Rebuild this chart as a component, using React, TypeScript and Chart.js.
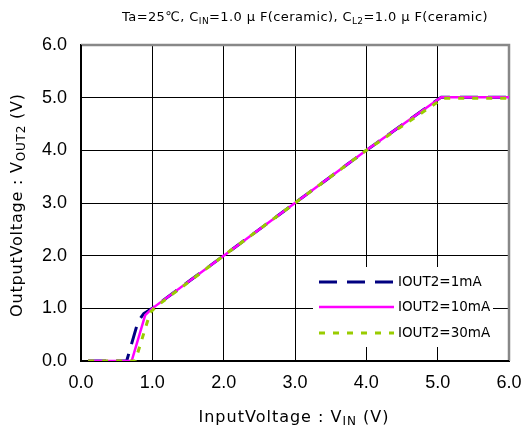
import React, { useEffect, useRef } from "react";
import { Chart, registerables } from "chart.js";

Chart.register(...registerables);

// ---- data ----
const axisTicks = [0, 1, 2, 3, 4, 5, 6];
const seriesLabels = ["IOUT2=1mA", "IOUT2=10mA", "IOUT2=30mA"];
const seriesColors = ["#000080", "#ff00ff", "#99cc00"];

const vin1mA = [0.1, 0.64, 0.8, 0.88, 1.0, 2.0, 3.0, 4.0, 5.05, 6.0];
const vout1mA = [0, 0, 0.75, 0.9, 1.0, 2.0, 3.0, 4.0, 5.01, 5.01];

const vin10mA = [0.1, 0.71, 0.9, 1.0, 2.0, 3.0, 4.0, 5.05, 6.0];
const vout10mA = [0, 0, 0.87, 1.0, 2.0, 3.0, 4.0, 5.01, 5.01];

const vin30mA = [0.1, 0.76, 0.97, 1.05, 2.0, 3.0, 4.0, 5.08, 6.0];
const vout30mA = [0, 0, 0.92, 1.03, 2.0, 3.0, 4.0, 4.99, 4.99];

const toPts = (xs: number[], ys: number[]) => xs.map((x, i) => ({ x, y: ys[i] }));

const GOTHIC = '"DejaVu Sans", "Noto Sans", sans-serif';
const TICKFONT = '"Liberation Sans", Arial, sans-serif';

type Part = [string, boolean];

function drawRich(
  ctx: CanvasRenderingContext2D,
  parts: Part[],
  cx: number,
  cy: number,
  size: number,
  spacing: number
) {
  const subSize = Math.round(size * 0.72);
  (ctx as any).letterSpacing = `${spacing}px`;
  let total = 0;
  const widths = parts.map(([t, sub]) => {
    ctx.font = `${sub ? subSize : size}px ${GOTHIC}`;
    const w = ctx.measureText(t).width;
    total += w;
    return w;
  });
  let x = cx - total / 2;
  ctx.textBaseline = "middle";
  ctx.textAlign = "left";
  ctx.fillStyle = "#000";
  parts.forEach(([t, sub], i) => {
    ctx.font = `${sub ? subSize : size}px ${GOTHIC}`;
    ctx.fillText(t, x, sub ? cy + size * 0.25 : cy);
    x += widths[i];
  });
  (ctx as any).letterSpacing = "0px";
}

const decorPlugin = {
  id: "decor",
  beforeDatasetsDraw(chart: any) {
    const { ctx, chartArea: a } = chart;
    ctx.save();
    ctx.strokeStyle = "#888888";
    ctx.lineWidth = 2.5;
    ctx.beginPath();
    ctx.moveTo(a.left, a.top);
    ctx.lineTo(a.right, a.top);
    ctx.lineTo(a.right, a.bottom);
    ctx.stroke();
    ctx.strokeStyle = "#000";
    ctx.lineWidth = 2;
    ctx.beginPath();
    ctx.moveTo(a.left, a.top);
    ctx.lineTo(a.left, a.bottom);
    ctx.lineTo(a.right, a.bottom);
    ctx.stroke();
    ctx.restore();
  },
  afterDraw(chart: any) {
    const { ctx } = chart;
    ctx.save();
    // title
    drawRich(
      ctx,
      [
        ["Ta=25℃, C", false],
        ["IN", true],
        ["=1.0 μ F(ceramic), C", false],
        ["L2", true],
        ["=1.0 μ F(ceramic)", false],
      ],
      305,
      18,
      13,
      0.4
    );
    // x title
    drawRich(
      ctx,
      [
        ["InputVoltage : V", false],
        ["IN", true],
        [" (V)", false],
      ],
      294,
      418,
      16,
      1
    );
    // y title
    ctx.save();
    ctx.translate(18, 205);
    ctx.rotate(-Math.PI / 2);
    drawRich(
      ctx,
      [
        ["OutputVoltage : V", false],
        ["OUT2", true],
        [" (V)", false],
      ],
      0,
      0,
      16,
      0.8
    );
    ctx.restore();

    // legend
    ctx.fillStyle = "#fff";
    ctx.fillRect(313, 267, 180, 80);
    const rows = [282, 307, 333];
    const dashes = [[18, 10], [], [6, 8]];
    const widths = [3, 2.5, 3];
    chart.data.datasets.forEach((ds: any, i: number) => {
      ctx.strokeStyle = ds.borderColor;
      ctx.lineWidth = widths[i];
      ctx.setLineDash(dashes[i]);
      ctx.beginPath();
      ctx.moveTo(319, rows[i]);
      ctx.lineTo(394, rows[i]);
      ctx.stroke();
      ctx.setLineDash([]);
      ctx.fillStyle = "#000";
      ctx.font = `13.5px ${GOTHIC}`;
      ctx.textAlign = "left";
      ctx.textBaseline = "middle";
      ctx.fillText(ds.label, 398, rows[i]);
    });
    ctx.restore();
  },
};

export default function App() {
  const ref = useRef<HTMLCanvasElement | null>(null);

  useEffect(() => {
    if (!ref.current) return;
    const tickCb = (v: any) => Number(v).toFixed(1);
    const chart = new Chart(ref.current, {
      type: "line",
      data: {
        datasets: [
          {
            label: seriesLabels[0],
            data: toPts(vin1mA, vout1mA),
            borderColor: seriesColors[0],
            borderWidth: 3,
            borderDash: [18, 10],
            pointRadius: 0,
            tension: 0,
            order: 3,
          },
          {
            label: seriesLabels[1],
            data: toPts(vin10mA, vout10mA),
            borderColor: seriesColors[1],
            borderWidth: 2.5,
            pointRadius: 0,
            tension: 0,
            order: 2,
          },
          {
            label: seriesLabels[2],
            data: toPts(vin30mA, vout30mA),
            borderColor: seriesColors[2],
            borderWidth: 3,
            borderDash: [6, 8],
            pointRadius: 0,
            tension: 0,
            order: 1,
          },
        ],
      },
      options: {
        animation: false,
        responsive: false,
        devicePixelRatio: 1,
        layout: { padding: { top: 45, right: 15, left: 0, bottom: 0 } },
        plugins: { legend: { display: false }, tooltip: { enabled: false }, title: { display: false } },
        scales: {
          x: {
            type: "linear",
            min: axisTicks[0],
            max: axisTicks[axisTicks.length - 1],
            afterBuildTicks: (s: any) => {
              s.ticks = axisTicks.map((v) => ({ value: v }));
            },
            afterFit: (s: any) => {
              s.height = 71;
              s.paddingLeft = 0;
              s.paddingRight = 0;
            },
            ticks: { callback: tickCb, color: "#000", font: { family: TICKFONT, size: 18 }, padding: 11, maxRotation: 0 },
            grid: { color: "#000", lineWidth: 1, drawTicks: false },
            border: { color: "#000", width: 2 },
          },
          y: {
            type: "linear",
            min: axisTicks[0],
            max: axisTicks[axisTicks.length - 1],
            afterBuildTicks: (s: any) => {
              s.ticks = axisTicks.map((v) => ({ value: v }));
            },
            afterFit: (s: any) => {
              s.width = 81;
              s.paddingTop = 0;
              s.paddingBottom = 0;
            },
            ticks: { callback: tickCb, color: "#000", font: { family: TICKFONT, size: 18 }, padding: 14 },
            grid: { color: "#000", lineWidth: 1, drawTicks: false },
            border: { color: "#000", width: 2 },
          },
        },
      },
      plugins: [decorPlugin],
    } as any);
    return () => chart.destroy();
  }, []);

  return (
    <div style={{ position: "absolute", left: 0, top: 0, width: 524, height: 432, background: "#fff" }}>
      <canvas ref={ref} width={524} height={432} style={{ display: "block" }} />
    </div>
  );
}
